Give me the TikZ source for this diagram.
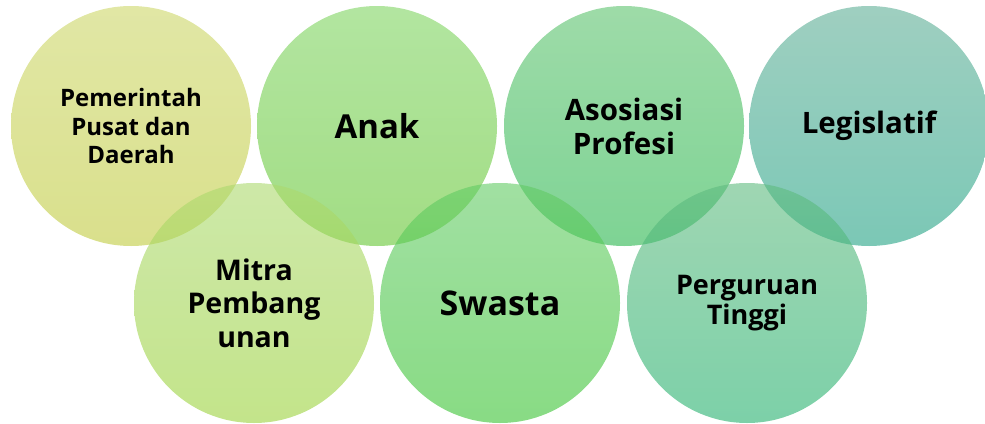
\documentclass[tikz,border=0pt]{standalone}
\usepackage{fontspec}
\setmainfont{Open Sans}
\usepackage{tikz}
\usetikzlibrary{positioning}
\definecolor{PemTop}{RGB}{205,215,105}
\definecolor{PemBot}{RGB}{192,203,63}
\definecolor{AnkTop}{RGB}{127,212,97}
\definecolor{AnkBot}{RGB}{100,198,50}
\definecolor{AsoTop}{RGB}{93,195,110}
\definecolor{AsoBot}{RGB}{40,182,77}
\definecolor{LegTop}{RGB}{95,175,150}
\definecolor{LegBot}{RGB}{35,163,133}
\definecolor{MitTop}{RGB}{172,217,110}
\definecolor{MitBot}{RGB}{155,210,60}
\definecolor{SwaTop}{RGB}{98,203,100}
\definecolor{SwaBot}{RGB}{57,195,50}
\definecolor{PerTop}{RGB}{95,187,127}
\definecolor{PerBot}{RGB}{37,177,110}
\tikzset{
  % Base circle
  CB/.style={circle,minimum size=240pt,inner sep=0pt,
             fill opacity=0.6,text opacity=1,
             align=center,text=black,font=\bfseries},
  % Colour variants
  cPem/.style={CB,top color=PemTop,bottom color=PemBot},
  cAnk/.style={CB,top color=AnkTop,bottom color=AnkBot},
  cAso/.style={CB,top color=AsoTop,bottom color=AsoBot},
  cLeg/.style={CB,top color=LegTop,bottom color=LegBot},
  cMit/.style={CB,top color=MitTop,bottom color=MitBot},
  cSwa/.style={CB,top color=SwaTop,bottom color=SwaBot},
  cPer/.style={CB,top color=PerTop,bottom color=PerBot}
}
\begin{document}
\begin{tikzpicture}[x=1pt,y=-1pt]
  \useasboundingbox (0,0) rectangle (985,423);
  \node[cPem,font=\fontsize{24}{28.5}\selectfont\bfseries] (pemda) at (131,126) {Pemerintah\\Pusat dan\\Daerah};
  \node[cAnk,font=\fontsize{33}{36}\selectfont\bfseries] (anak) at (377,126) {Anak};
  \node[cAso,font=\fontsize{29.5}{34}\selectfont\bfseries] (asosiasi) at (624,126) {Asosiasi\\Profesi};
  \node[cLeg,font=\fontsize{29.5}{34}\selectfont\bfseries] (legislatif) at (869,126) {Legislatif};
  \node[cMit,font=\fontsize{28.5}{33.5}\selectfont\bfseries] (mitra) at (254,303) {Mitra\\Pembang\\unan};
  \node[cSwa,font=\fontsize{34}{38}\selectfont\bfseries] (swasta) at (500,303) {Swasta};
  \node[cPer,font=\fontsize{27}{30.5}\selectfont\bfseries] (pt) at (747,303) {Perguruan\\Tinggi};
\end{tikzpicture}
\end{document}
